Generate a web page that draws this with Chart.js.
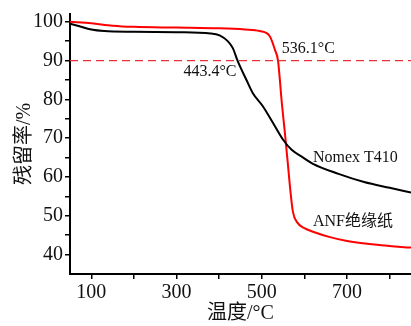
<!DOCTYPE html>
<html>
<head>
<meta charset="utf-8">
<script src="https://cdn.jsdelivr.net/npm/chart.js@4.4.1/dist/chart.umd.min.js"></script>
<style>
  html, body { margin: 0; padding: 0; background: #fff; }
  #wrap { width: 411px; height: 326px; }
</style>
</head>
<body>
<div id="wrap"><canvas id="tga"></canvas></div>
<script>
const serif = "'Liberation Serif', 'Times New Roman', 'Noto Sans CJK SC', serif";

// TGA curves
const nomexTemp = [50, 70, 100, 130, 200, 300, 380, 401, 420, 432, 443, 464, 479, 502, 526, 550, 570, 597, 620, 680, 740, 800, 850];
const nomexMass = [99.5, 98.9, 98.0, 97.6, 97.4, 97.3, 97.0, 96.5, 95.0, 93.2, 90.0, 85.0, 81.6, 78.3, 74.0, 69.6, 67.0, 65.0, 63.4, 60.8, 58.7, 57.2, 56.0];

const anfTemp = [50, 100, 150, 200, 300, 400, 460, 495, 519, 531, 538, 547, 554, 561, 567, 573, 583, 600, 620, 660, 700, 780, 850];
const anfMass = [100, 99.6, 99.0, 98.7, 98.5, 98.3, 98.0, 97.6, 96.2, 92.7, 90.0, 79.0, 71.5, 63.5, 56.5, 51.0, 48.3, 46.8, 45.9, 44.5, 43.5, 42.4, 41.8];

const refLine = 90;
const xTicks = [100, 200, 300, 400, 500, 600, 700, 800];
const xLabels = [100, 300, 500, 700];
const yTicks = [40, 45, 50, 55, 60, 65, 70, 75, 80, 85, 90, 95, 100];
const yLabels = [40, 50, 60, 70, 80, 90, 100];

// text labels: [text, x value, y value]
const notes = [
  ["536.1°C", 547, 93.1],
  ["443.4°C", 316, 87.2],
  ["Nomex T410", 620, 65.0],
  ["ANF绝缘纸", 620, 48.5],
];

function toPoints(xs, ys) {
  return xs.map((x, i) => ({ x: x, y: ys[i] }));
}

const notePlugin = {
  id: "notes",
  afterDatasetsDraw(chart) {
    const ctx = chart.ctx;
    const xs = chart.scales.x;
    const ys = chart.scales.y;
    ctx.save();
    ctx.fillStyle = "#111";
    ctx.font = "16px " + serif;
    ctx.textBaseline = "middle";
    ctx.textAlign = "left";
    notes.forEach((n) => {
      ctx.fillText(n[0], xs.getPixelForValue(n[1]), ys.getPixelForValue(n[2]));
    });
    ctx.restore();
  },
};

new Chart(document.getElementById("tga"), {
  type: "line",
  data: {
    datasets: [
      {
        data: [{ x: 50, y: refLine }, { x: 850, y: refLine }],
        borderColor: "#e8323a",
        borderWidth: 1.3,
        borderDash: [8, 5],
        pointRadius: 0,
      },
      {
        label: "Nomex T410",
        data: toPoints(nomexTemp, nomexMass),
        borderColor: "#000",
        borderWidth: 2,
        pointRadius: 0,
        cubicInterpolationMode: "monotone",
      },
      {
        label: "ANF绝缘纸",
        data: toPoints(anfTemp, anfMass),
        borderColor: "#ff0000",
        borderWidth: 2,
        pointRadius: 0,
        cubicInterpolationMode: "monotone",
      },
    ],
  },
  options: {
    responsive: true,
    maintainAspectRatio: false,
    animation: false,
    layout: { padding: { top: 10, right: 0, left: 0, bottom: 0 } },
    plugins: { legend: { display: false }, tooltip: { enabled: false } },
    scales: {
      x: {
        type: "linear",
        min: 50,
        max: 850,
        afterBuildTicks: (scale) => {
          scale.ticks = xTicks.map((v) => ({ value: v }));
        },
        afterFit: (scale) => {
          scale.height = 52;
        },
        ticks: {
          autoSkip: false,
          maxRotation: 0,
          padding: 2,
          color: "#111",
          font: { family: serif, size: 20 },
          callback: (v) => (xLabels.includes(v) ? String(v) : ""),
        },
        grid: { drawOnChartArea: false, tickLength: 5, color: "#000", lineWidth: 1.5 },
        border: { color: "#000", width: 2 },
        title: {
          display: true,
          text: "温度/°C",
          color: "#111",
          padding: { top: 0, bottom: 0 },
          font: { family: serif, size: 20 },
        },
      },
      y: {
        min: 35,
        max: 102,
        afterBuildTicks: (scale) => {
          scale.ticks = yTicks.map((v) => ({ value: v }));
        },
        afterFit: (scale) => {
          scale.width = 70;
        },
        ticks: {
          autoSkip: false,
          padding: 2,
          color: "#111",
          font: { family: serif, size: 20 },
          callback: (v) => (yLabels.includes(v) ? String(v) : ""),
        },
        grid: { drawOnChartArea: false, tickLength: 5, color: "#000", lineWidth: 1.5 },
        border: { color: "#000", width: 2 },
        title: {
          display: true,
          text: "残留率/%",
          color: "#111",
          padding: { top: 13, bottom: 0 },
          font: { family: serif, size: 20 },
        },
      },
    },
  },
  plugins: [notePlugin],
});
</script>
</body>
</html>
